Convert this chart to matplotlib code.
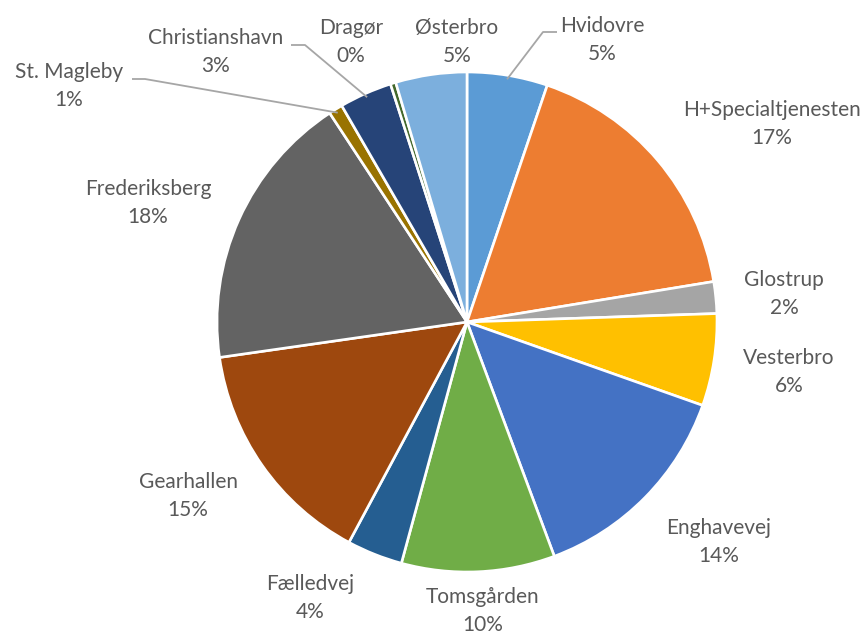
import matplotlib
matplotlib.use("Agg")
import matplotlib.pyplot as plt
import numpy as np

# Share of total per unit (percent), clockwise from 12 o'clock
units = ["Hvidovre", "H+Specialtjenesten", "Glostrup", "Vesterbro", "Enghavevej",
         "Tomsgården", "Fælledvej", "Gearhallen", "Frederiksberg", "St. Magleby",
         "Christianshavn", "Dragør", "Østerbro"]
shares = [5.2, 17.2, 2.05, 5.95, 13.9, 9.9, 3.6, 14.9, 18.0, 0.9, 3.4, 0.35, 4.6]
colors = ["#5B9BD5", "#ED7D31", "#A5A5A5", "#FFC000", "#4472C4", "#70AD47",
          "#255E91", "#9E480E", "#636363", "#997300", "#264478", "#43682B", "#7CAFDD"]

# Layout in pixel units (y measured from the top)
W, H = 868, 639
CENTER = (467, 322)
RADIUS = 250
label_pos = {
    "Hvidovre": (602, 40), "H+Specialtjenesten": (772, 124), "Glostrup": (784, 294),
    "Vesterbro": (789, 372), "Enghavevej": (719, 542), "Tomsgården": (483, 611),
    "Fælledvej": (310, 598), "Gearhallen": (188, 496), "Frederiksberg": (148, 203),
    "St. Magleby": (69, 86), "Christianshavn": (216, 52), "Dragør": (351, 42),
    "Østerbro": (457, 42),
}
# leader lines: horizontal stub next to the label, then a straight run to the slice
leaders = {
    "Hvidovre": [(557, 32), (543, 32)],
    "St. Magleby": [(132, 79), (145, 79)],
    "Christianshavn": [(291, 45), (305, 45)],
}

plt.rcParams["font.family"] = ["Lato", "DejaVu Sans"]
text_color = "#595959"

fig = plt.figure(figsize=(W / 100, H / 100), dpi=100)
ax = fig.add_axes([0, 0, 1, 1])

wedges, _ = ax.pie(shares, colors=colors, center=CENTER, radius=RADIUS,
                   startangle=-90, counterclock=True,
                   wedgeprops=dict(edgecolor="white", linewidth=1.9))
ax.set_xlim(0, W)
ax.set_ylim(H, 0)
ax.set_aspect("auto")
ax.axis("off")

total = sum(shares)
for name, val, w in zip(units, shares, wedges):
    pct = f"{round(val / total * 100)}%"
    x, y = label_pos[name]
    ax.text(x, y, f"{name}\n{pct}", ha="center", va="center", fontsize=15,
            color=text_color, linespacing=1.45)
    if name in leaders:
        mid = np.deg2rad((w.theta1 + w.theta2) / 2)
        px = CENTER[0] + (RADIUS - 4) * np.cos(mid)
        py = CENTER[1] + (RADIUS - 4) * np.sin(mid)
        pts = leaders[name] + [(px, py)]
        ax.plot([p[0] for p in pts], [p[1] for p in pts], color="#A6A6A6",
                linewidth=1.3, solid_capstyle="butt")

fig.savefig("out.png", dpi=100, facecolor="white")
